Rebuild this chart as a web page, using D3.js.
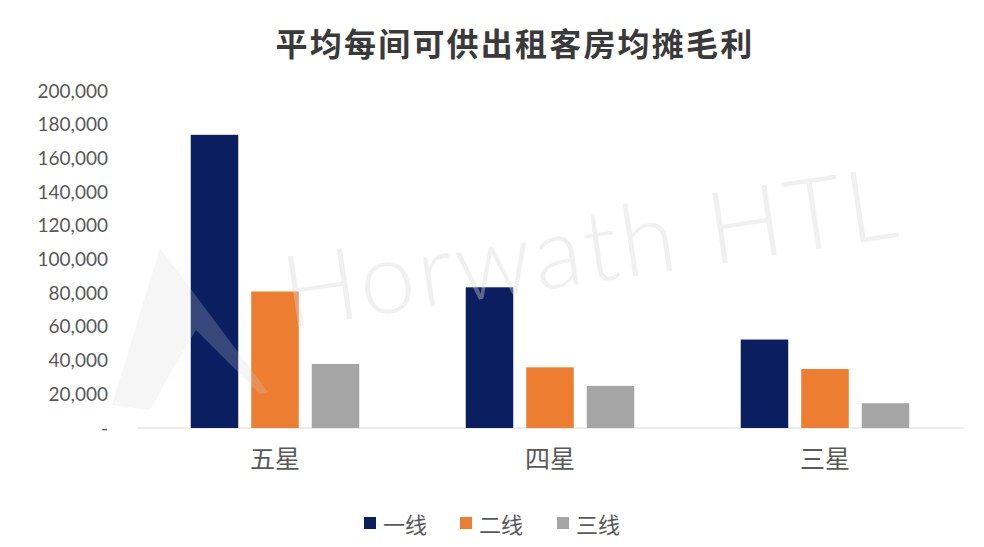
<!DOCTYPE html>
<html>
<head>
<meta charset="utf-8">
<script src="https://cdn.jsdelivr.net/npm/d3@7"></script>
<style>
  html, body { margin: 0; padding: 0; background: #ffffff; }
  svg { display: block; }
</style>
</head>
<body>
<svg id="chart" width="984" height="547"></svg>
<script>
const title = "平均每间可供出租客房均摊毛利";
const categories = ["五星", "四星", "三星"];
const seriesNames = ["一线", "二线", "三线"];
const tier1 = [174000, 83500, 52500];
const tier2 = [81000, 36000, 35000];
const tier3 = [38000, 25000, 14700];
const yTicks = [0, 20000, 40000, 60000, 80000, 100000, 120000, 140000, 160000, 180000, 200000];
const colors = ["#0b1f60", "#ed7d31", "#a5a5a5"];
const watermark = "Horwath HTL";

const seriesValues = [tier1, tier2, tier3];
const data = categories.map((c, i) => ({
  category: c,
  values: seriesNames.map((s, j) => ({ series: s, value: seriesValues[j][i], idx: j }))
}));

const svg = d3.select("#chart");
const W = 984, H = 547;
const margin = { left: 137.5, right: 21.5, top: 91, bottom: 119 };
const plotBottom = H - margin.bottom; // 428

const x = d3.scaleBand().domain(categories).range([margin.left, W - margin.right]).paddingInner(0).paddingOuter(0);
const xSub = d3.scaleBand().domain(seriesNames).range([0, x.bandwidth()]).paddingInner(0.215).paddingOuter(0.88);
const y = d3.scaleLinear().domain([0, 200000]).range([plotBottom, margin.top]);
const color = d3.scaleOrdinal().domain(seriesNames).range(colors);

// Title
svg.append("text")
  .attr("x", 515).attr("y", 42)
  .attr("text-anchor", "middle").attr("dominant-baseline", "central")
  .attr("font-family", "'Noto Sans CJK SC', sans-serif")
  .attr("font-weight", 700).attr("font-size", 32)
  .attr("letter-spacing", 2.2)
  .attr("fill", "#3a3a3a")
  .text(title);

// Y axis (labels only)
const yAxis = d3.axisLeft(y).tickValues(yTicks)
  .tickFormat(d => d === 0 ? "-" : d3.format(",")(d))
  .tickSize(0).tickPadding(0);
const yg = svg.append("g").attr("transform", "translate(108,0)").call(yAxis);
yg.select(".domain").remove();
yg.selectAll("text")
  .attr("font-family", "Lato, 'Open Sans', sans-serif")
  .attr("font-size", 19)
  .attr("fill", "#595959");

// Baseline
svg.append("line")
  .attr("x1", margin.left).attr("x2", W - margin.right + 2)
  .attr("y1", y(0)).attr("y2", y(0))
  .attr("stroke", "#d9d9d9").attr("stroke-width", 1.2);

// Bars
const groups = svg.append("g").selectAll("g").data(data).join("g")
  .attr("transform", d => `translate(${x(d.category)},0)`);
groups.selectAll("rect").data(d => d.values).join("rect")
  .attr("x", d => xSub(d.series))
  .attr("width", xSub.bandwidth())
  .attr("y", d => y(d.value))
  .attr("height", d => y(0) - y(d.value))
  .attr("fill", d => color(d.series));

// X axis labels
const xAxis = d3.axisBottom(x).tickSize(0).tickPadding(0);
const xg = svg.append("g").attr("transform", `translate(0,${y(0) + 27})`).call(xAxis);
xg.select(".domain").remove();
xg.selectAll("text")
  .attr("dy", "0.5em")
  .attr("font-family", "'Noto Sans CJK SC', serif")
  .attr("font-size", 25)
  .attr("fill", "#595959");

// Watermark (decorative overlay)
const wm = svg.append("g").attr("pointer-events", "none");
wm.append("path")
  .attr("d", "M112,405 L160,248 L268,392 L260,394 L196,330 L178,360 L150,410 Z")
  .attr("fill", "#d8d8d8").attr("opacity", 0.22);
wm.append("text")
  .attr("x", 0).attr("y", 0)
  .attr("transform", "translate(288,328) rotate(-8.5)")
  .attr("font-family", "Lato, 'Open Sans', sans-serif")
  .attr("font-weight", 300)
  .attr("font-size", 100)
  .attr("letter-spacing", 3)
  .attr("fill", "#d8d8d8").attr("opacity", 0.38)
  .text(watermark);

// Legend
const legendX = [364, 460, 557];
const lg = svg.append("g").selectAll("g").data(seriesNames).join("g")
  .attr("transform", (d, i) => `translate(${legendX[i]},523)`);
lg.append("rect").attr("x", 0).attr("y", -6).attr("width", 12).attr("height", 12)
  .attr("fill", d => color(d));
lg.append("text").attr("x", 19).attr("y", 0)
  .attr("dominant-baseline", "central")
  .attr("font-family", "'Noto Sans CJK SC', sans-serif")
  .attr("font-size", 22).attr("fill", "#595959")
  .text(d => d);
</script>
</body>
</html>
